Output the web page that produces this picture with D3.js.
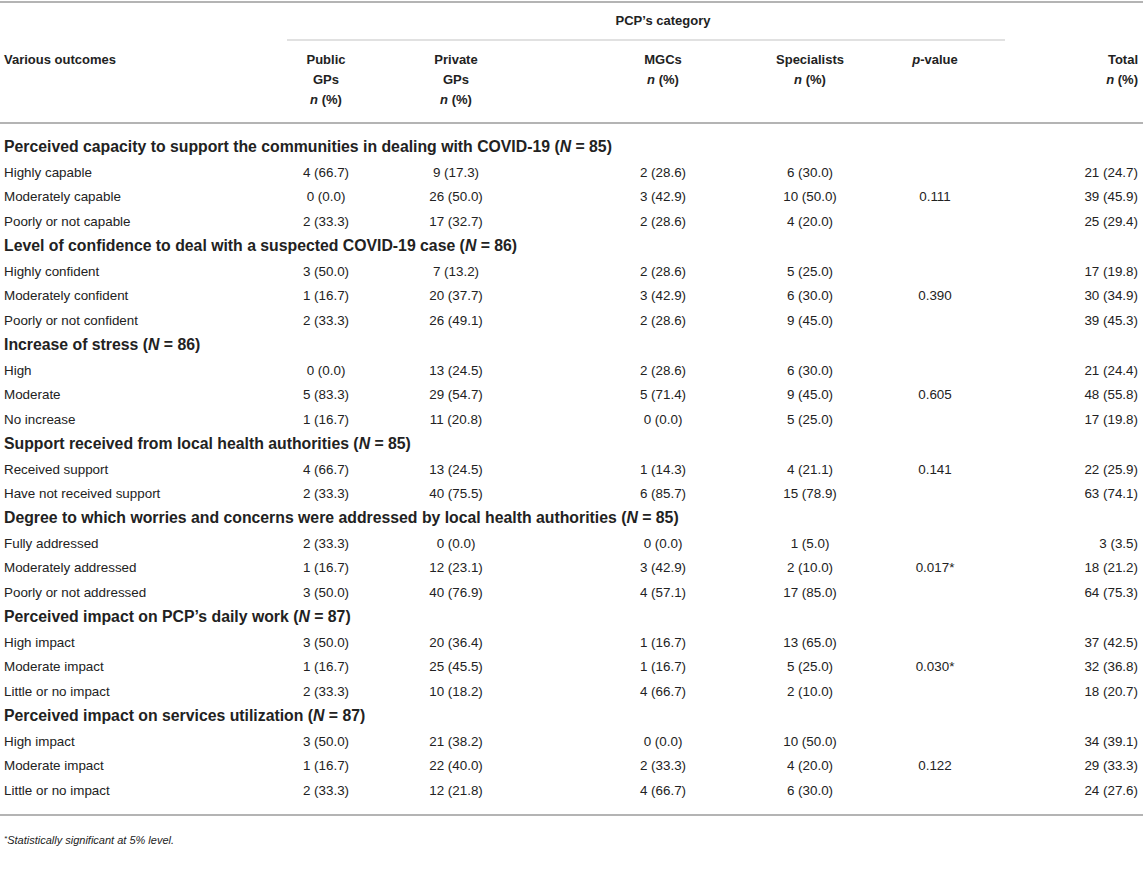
<!DOCTYPE html>
<meta charset="utf-8">
<style>
body { margin: 0; background: #fff; }
svg text { font-family: "Liberation Sans", Arial, sans-serif; font-size: 13.4px; fill: #222; }
.bold { font-weight: bold; }
svg text.head { font-size: 13px; }
svg text.section { font-size: 15.8px; }
.rule { stroke: #b4b4b4; stroke-width: 2; }
.thin { stroke: #c4c4c4; stroke-width: 1.2; }
</style>
<script src="https://d3js.org/d3.v7.min.js"></script>
<body>
<script>
// table content
const sectionTitles = [
  "Perceived capacity to support the communities in dealing with COVID-19",
  "Level of confidence to deal with a suspected COVID-19 case",
  "Increase of stress",
  "Support received from local health authorities",
  "Degree to which worries and concerns were addressed by local health authorities",
  "Perceived impact on PCP\u2019s daily work",
  "Perceived impact on services utilization"
];
const sectionN = [85, 86, 86, 85, 85, 87, 87];
const rowLabels = [
  ["Highly capable", "Moderately capable", "Poorly or not capable"],
  ["Highly confident", "Moderately confident", "Poorly or not confident"],
  ["High", "Moderate", "No increase"],
  ["Received support", "Have not received support"],
  ["Fully addressed", "Moderately addressed", "Poorly or not addressed"],
  ["High impact", "Moderate impact", "Little or no impact"],
  ["High impact", "Moderate impact", "Little or no impact"]
];
const publicGPs = ["4 (66.7)", "0 (0.0)", "2 (33.3)", "3 (50.0)", "1 (16.7)", "2 (33.3)",
  "0 (0.0)", "5 (83.3)", "1 (16.7)", "4 (66.7)", "2 (33.3)", "2 (33.3)", "1 (16.7)", "3 (50.0)",
  "3 (50.0)", "1 (16.7)", "2 (33.3)", "3 (50.0)", "1 (16.7)", "2 (33.3)"];
const privateGPs = ["9 (17.3)", "26 (50.0)", "17 (32.7)", "7 (13.2)", "20 (37.7)", "26 (49.1)",
  "13 (24.5)", "29 (54.7)", "11 (20.8)", "13 (24.5)", "40 (75.5)", "0 (0.0)", "12 (23.1)", "40 (76.9)",
  "20 (36.4)", "25 (45.5)", "10 (18.2)", "21 (38.2)", "22 (40.0)", "12 (21.8)"];
const mgcs = ["2 (28.6)", "3 (42.9)", "2 (28.6)", "2 (28.6)", "3 (42.9)", "2 (28.6)",
  "2 (28.6)", "5 (71.4)", "0 (0.0)", "1 (14.3)", "6 (85.7)", "0 (0.0)", "3 (42.9)", "4 (57.1)",
  "1 (16.7)", "1 (16.7)", "4 (66.7)", "0 (0.0)", "2 (33.3)", "4 (66.7)"];
const specialists = ["6 (30.0)", "10 (50.0)", "4 (20.0)", "5 (25.0)", "6 (30.0)", "9 (45.0)",
  "6 (30.0)", "9 (45.0)", "5 (25.0)", "4 (21.1)", "15 (78.9)", "1 (5.0)", "2 (10.0)", "17 (85.0)",
  "13 (65.0)", "5 (25.0)", "2 (10.0)", "10 (50.0)", "4 (20.0)", "6 (30.0)"];
const totals = ["21 (24.7)", "39 (45.9)", "25 (29.4)", "17 (19.8)", "30 (34.9)", "39 (45.3)",
  "21 (24.4)", "48 (55.8)", "17 (19.8)", "22 (25.9)", "63 (74.1)", "3 (3.5)", "18 (21.2)", "64 (75.3)",
  "37 (42.5)", "32 (36.8)", "18 (20.7)", "34 (39.1)", "29 (33.3)", "24 (27.6)"];
const pValues = ["0.111", "0.390", "0.605", "0.141", "0.017*", "0.030*", "0.122"];
const columns = ["public", "private", "mgc", "spec", "p", "total"];
const columnHeads = [["Public", "GPs"], ["Private", "GPs"], ["MGCs"], ["Specialists"], [], ["Total"]];

const W = 1143, H = 881;
const svg = d3.select("body").append("svg").attr("width", W).attr("height", H);

const x = d3.scaleOrdinal().domain(columns).range([326, 456, 663, 810, 935, 1138]);
const anchor = c => c === "total" ? "end" : "middle";

// flatten rows: section headers plus their item rows
const rows = [];
let k = 0;
sectionTitles.forEach((t, s) => {
  rows.push({type: "head", s});
  const mid = rowLabels[s].length === 3 ? 1 : 0;
  rowLabels[s].forEach((lab, j) => {
    rows.push({type: "item", label: lab, vals: [publicGPs[k], privateGPs[k], mgcs[k], specialists[k],
      j === mid ? pValues[s] : "", totals[k]]});
    k++;
  });
});

const y = d3.scaleLinear().domain([0, rows.length - 1]).range([147, 790]);

// rules
svg.append("line").attr("class", "rule").attr("x1", 0).attr("x2", W).attr("y1", 2).attr("y2", 2);
svg.append("line").attr("class", "thin").attr("x1", 287).attr("x2", 1005).attr("y1", 40).attr("y2", 40);
svg.append("line").attr("class", "rule").attr("x1", 0).attr("x2", W).attr("y1", 123).attr("y2", 123);
svg.append("line").attr("class", "rule").attr("x1", 0).attr("x2", W).attr("y1", 815).attr("y2", 815);

// header
svg.append("text").attr("class", "bold head").attr("x", 663).attr("y", 25)
  .attr("text-anchor", "middle").text("PCP\u2019s category");
svg.append("text").attr("class", "bold head").attr("x", 4).attr("y", 64).text("Various outcomes");

columns.forEach((c, i) => {
  const g = svg.append("g");
  columnHeads[i].forEach((line, j) => {
    g.append("text").attr("class", "bold head").attr("x", x(c)).attr("y", 64 + j * 20)
      .attr("text-anchor", anchor(c)).text(line);
  });
  if (c === "p") {
    const t = g.append("text").attr("class", "bold head").attr("x", x(c)).attr("y", 64).attr("text-anchor", "middle");
    t.append("tspan").attr("font-style", "italic").text("p");
    t.append("tspan").text("-value");
  } else {
    const t = g.append("text").attr("class", "bold head").attr("x", x(c))
      .attr("y", 64 + columnHeads[i].length * 20).attr("text-anchor", anchor(c));
    t.append("tspan").attr("font-style", "italic").text("n");
    t.append("tspan").text(" (%)");
  }
});

// body
rows.forEach((r, i) => {
  const yy = y(i) + 5;
  if (r.type === "head") {
    const t = svg.append("text").attr("class", "bold section").attr("x", 4).attr("y", yy);
    t.append("tspan").text(sectionTitles[r.s] + " (");
    t.append("tspan").attr("font-style", "italic").text("N");
    t.append("tspan").text(" = " + sectionN[r.s] + ")");
  } else {
    svg.append("text").attr("x", 4).attr("y", yy).text(r.label);
    svg.selectAll(null).data(r.vals.map((v, j) => ({v, c: columns[j]})))
      .enter().append("text")
      .attr("x", d => x(d.c)).attr("y", yy)
      .attr("text-anchor", d => anchor(d.c))
      .text(d => d.v);
  }
});

// footnote
const fn = svg.append("text").attr("x", 4).attr("y", 844).attr("font-style", "italic").style("font-size", "11px");
fn.append("tspan").attr("dy", -3).style("font-size", "8px").text("*");
fn.append("tspan").attr("dy", 3).text("Statistically significant at 5% level.");
</script>
</body>
</html>
